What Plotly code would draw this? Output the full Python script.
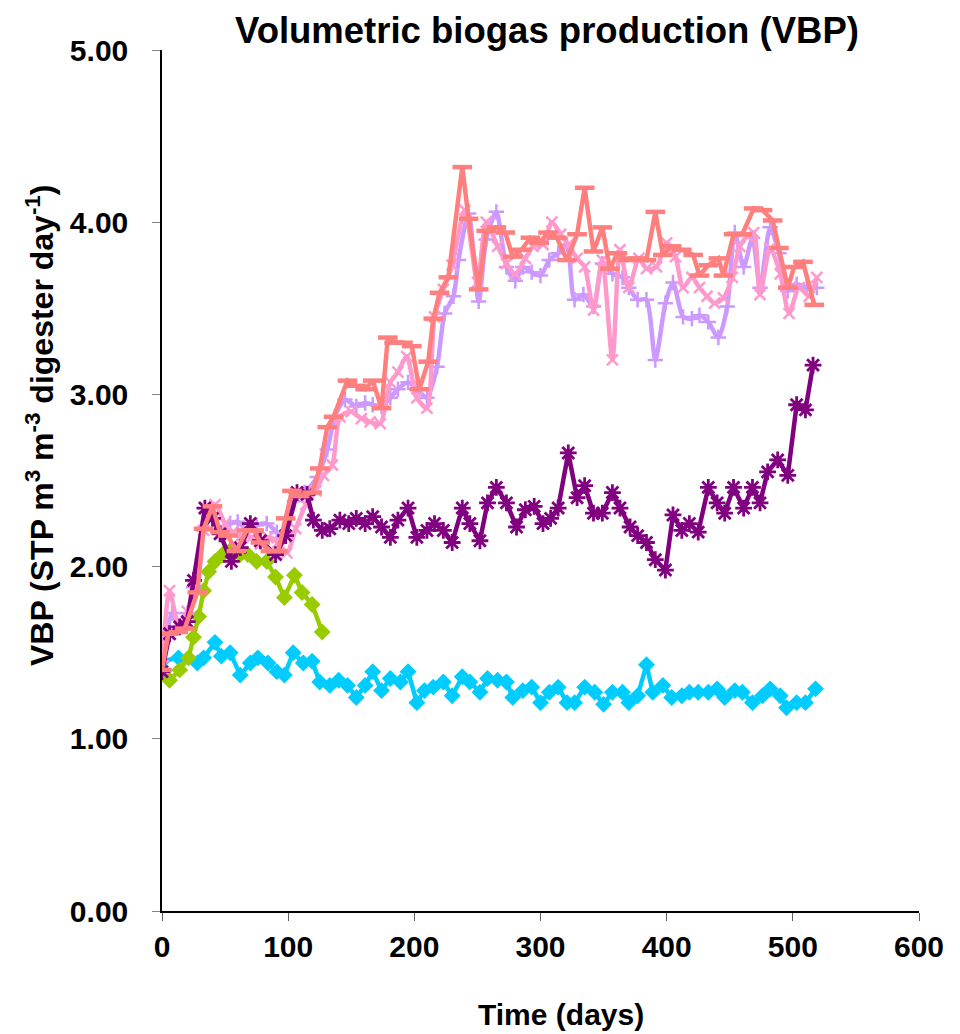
import plotly.graph_objects as go

# ---------------- data ----------------
cyan_days = [0, 13, 28, 33, 42, 47, 54, 62, 70, 76, 84, 91, 97, 104, 112, 119, 125, 133, 140, 147,
             154, 161, 167, 174, 181, 189, 195, 202, 208, 215, 223, 230, 238, 244, 252, 258, 266, 273, 278, 286,
             293, 300, 307, 314, 321, 327, 335, 343, 350, 357, 365, 370, 377, 384, 389, 397, 404, 412, 418, 425,
             433, 440, 446, 454, 460, 468, 476, 482, 490, 495, 503, 510, 518]
cyan_vbp = [1.45, 1.47, 1.44, 1.47, 1.56, 1.48, 1.50, 1.37, 1.44, 1.47, 1.44, 1.39, 1.37, 1.50, 1.44, 1.45, 1.33, 1.31, 1.34, 1.31,
            1.24, 1.31, 1.39, 1.28, 1.35, 1.33, 1.39, 1.21, 1.28, 1.30, 1.33, 1.25, 1.36, 1.33, 1.27, 1.35, 1.34, 1.33, 1.24, 1.28,
            1.30, 1.21, 1.27, 1.30, 1.21, 1.21, 1.30, 1.27, 1.20, 1.27, 1.27, 1.21, 1.25, 1.43, 1.27, 1.31, 1.24, 1.25, 1.27, 1.27,
            1.27, 1.29, 1.24, 1.28, 1.27, 1.21, 1.25, 1.29, 1.25, 1.18, 1.21, 1.21, 1.29]

green_days = [0, 6, 14, 21, 25, 29, 33, 37, 42, 48, 55, 62, 68, 75, 83, 90, 97, 105, 111, 119, 127]
green_vbp = [1.40, 1.34, 1.40, 1.47, 1.59, 1.71, 1.86, 1.97, 2.03, 2.07, 2.10, 2.07, 2.07, 2.03, 2.03, 1.94, 1.82, 1.95, 1.85, 1.78, 1.62]

purple_days = [0, 6, 14, 20, 25, 34, 40, 46, 55, 62, 70, 78, 90, 98, 107, 115, 120, 127, 133, 141,
               148, 154, 161, 167, 174, 181, 187, 195, 202, 210, 216, 223, 230, 238, 244, 252, 258, 265, 273, 281,
               288, 295, 302, 308, 314, 322, 329, 335, 342, 349, 357, 363, 371, 377, 384, 391, 399, 405, 412, 418,
               425, 433, 440, 446, 453, 461, 468, 474, 480, 488, 496, 503, 510, 516]
purple_vbp = [1.39, 1.61, 1.65, 1.68, 1.92, 2.34, 2.28, 2.19, 2.03, 2.11, 2.25, 2.15, 2.07, 2.18, 2.43, 2.42, 2.27, 2.21, 2.22, 2.27,
              2.25, 2.28, 2.25, 2.29, 2.23, 2.17, 2.27, 2.34, 2.17, 2.21, 2.25, 2.21, 2.14, 2.34, 2.25, 2.15, 2.37, 2.46, 2.37, 2.23,
              2.33, 2.35, 2.25, 2.28, 2.34, 2.66, 2.40, 2.47, 2.31, 2.31, 2.43, 2.34, 2.23, 2.18, 2.14, 2.04, 1.98, 2.30, 2.21, 2.25,
              2.20, 2.46, 2.37, 2.31, 2.46, 2.34, 2.46, 2.37, 2.55, 2.62, 2.53, 2.94, 2.91, 3.17]

lavender_days = [0, 8, 13, 20, 25, 33, 40, 46, 54, 60, 68, 75, 83, 91, 96, 105, 113, 123, 131, 137,
                 145, 154, 161, 167, 174, 181, 187, 195, 202, 210, 218, 224, 231, 235, 243, 251, 257, 265, 273, 280,
                 286, 293, 300, 307, 314, 321, 327, 334, 342, 349, 357, 365, 370, 377, 384, 391, 399, 405, 413, 420,
                 426, 433, 441, 448, 454, 461, 468, 474, 482, 489, 496, 503, 511, 519]
lavender_vbp = [1.45, 1.73, 1.65, 1.73, 1.88, 2.21, 2.31, 2.20, 2.25, 2.26, 2.21, 2.24, 2.25, 2.20, 2.17, 2.38, 2.43, 2.52, 2.68, 2.87,
                2.97, 2.93, 2.95, 2.94, 2.93, 2.98, 3.03, 3.07, 3.03, 2.98, 3.16, 3.47, 3.57, 3.78, 4.05, 3.54, 3.90, 4.06, 3.74, 3.66,
                3.74, 3.71, 3.69, 3.78, 3.82, 3.87, 3.55, 3.58, 3.51, 3.76, 3.70, 3.68, 3.62, 3.55, 3.55, 3.20, 3.53, 3.65, 3.45, 3.44,
                3.46, 3.42, 3.33, 3.51, 3.94, 3.74, 3.91, 3.62, 3.97, 3.82, 3.60, 3.64, 3.62, 3.62]

pink_days = [0, 6, 13, 20, 25, 33, 42, 50, 56, 63, 71, 78, 84, 92, 99, 106, 114, 122, 128, 135,
             141, 150, 158, 165, 173, 181, 187, 194, 202, 210, 216, 223, 230, 240, 250, 257, 266, 273, 280, 288,
             294, 302, 309, 316, 322, 329, 335, 342, 349, 357, 363, 370, 378, 384, 392, 400, 407, 413, 420, 426,
             432, 438, 445, 452, 458, 464, 469, 474, 482, 490, 497, 505, 513, 519]
pink_vbp = [1.42, 1.86, 1.67, 1.74, 1.88, 2.21, 2.36, 2.25, 2.20, 2.18, 2.17, 2.13, 2.17, 2.14, 2.08, 2.22, 2.36, 2.44, 2.53, 2.59,
            2.87, 2.90, 2.86, 2.84, 2.83, 3.07, 3.13, 3.22, 2.98, 2.92, 3.45, 3.61, 3.75, 4.07, 3.65, 4.00, 3.86, 3.76, 3.70, 3.79,
            3.86, 3.87, 4.00, 3.93, 3.87, 3.79, 3.74, 3.49, 3.78, 3.20, 3.84, 3.62, 3.79, 3.73, 3.74, 3.88, 3.80, 3.62, 3.68, 3.62,
            3.57, 3.53, 3.56, 3.68, 3.86, 3.92, 3.94, 3.58, 3.85, 3.70, 3.47, 3.62, 3.57, 3.68]

salmon_days = [0, 5, 13, 18, 28, 33, 40, 46, 52, 59, 67, 73, 78, 86, 92, 98, 103, 109, 119, 125,
               131, 136, 147, 154, 161, 167, 174, 179, 184, 191, 198, 204, 211, 215, 220, 227, 238, 243, 251, 257,
               265, 272, 278, 285, 292, 299, 306, 313, 321, 329, 335, 342, 349, 355, 361, 369, 376, 384, 391, 397,
               404, 412, 421, 426, 433, 441, 445, 453, 460, 469, 476, 484, 489, 496, 501, 508, 517]
salmon_vbp = [1.40, 1.61, 1.62, 1.64, 1.85, 2.22, 2.35, 2.20, 2.18, 2.09, 2.21, 2.21, 2.14, 2.09, 2.09, 2.28, 2.44, 2.41, 2.43, 2.57,
              2.81, 2.87, 3.08, 3.05, 3.03, 3.08, 2.92, 3.33, 3.30, 3.30, 3.28, 3.03, 3.19, 3.44, 3.59, 3.68, 4.32, 4.02, 3.61, 3.95,
              3.97, 3.94, 3.80, 3.84, 3.91, 3.88, 3.94, 3.91, 3.78, 3.93, 4.20, 3.83, 3.97, 3.73, 3.82, 3.78, 3.79, 3.78, 4.06, 3.81,
              3.86, 3.84, 3.81, 3.69, 3.75, 3.79, 3.69, 3.93, 3.93, 4.08, 4.07, 4.01, 3.85, 3.62, 3.74, 3.77, 3.52]

x_ticks = [0, 100, 200, 300, 400, 500, 600]
y_ticks = [0, 1, 2, 3, 4, 5]

title_text = "Volumetric biogas production (VBP)"
x_title = "Time (days)"
y_title = "VBP (STP m<sup>3</sup> m<sup>-3</sup> digester day<sup>-1</sup>)"

# ---------------- styles ----------------
CYAN = "#00CCFF"
GREEN = "#99CC00"
PURPLE = "#800080"
LAVENDER = "#CC99FF"
PINK = "#FF99CC"
SALMON = "#FF7F7F"
FONT = "Liberation Sans, Arial, sans-serif"
LW = 4.5

# The page body has an 8px margin, so the figure is drawn 8px in from the window corner.
W, H = 952, 1026
PL, PR, PT, PB = 154, 41, 42, 123   # plot area lands at window x 162..919, y 50..911
PW, PH = W - PL - PR, H - PT - PB

fig = go.Figure()

fig.add_trace(go.Scatter(x=cyan_days, y=cyan_vbp, mode="lines+markers",
                         line=dict(color=CYAN, width=LW),
                         marker=dict(symbol="diamond", size=13, color=CYAN)))
fig.add_trace(go.Scatter(x=green_days, y=green_vbp, mode="lines+markers",
                         line=dict(color=GREEN, width=LW),
                         marker=dict(symbol="diamond", size=13, color=GREEN)))
fig.add_trace(go.Scatter(x=lavender_days, y=lavender_vbp, mode="lines+markers",
                         line=dict(color=LAVENDER, width=LW, shape="spline", smoothing=0.7),
                         marker=dict(symbol="cross-thin", size=11, color=LAVENDER,
                                     line=dict(color=LAVENDER, width=2.5))))
fig.add_trace(go.Scatter(x=pink_days, y=pink_vbp, mode="lines+markers",
                         line=dict(color=PINK, width=LW, shape="spline", smoothing=0.7),
                         marker=dict(symbol="x-thin", size=11, color=PINK,
                                     line=dict(color=PINK, width=2.5))))
fig.add_trace(go.Scatter(x=purple_days, y=purple_vbp, mode="lines+markers",
                         line=dict(color=PURPLE, width=LW),
                         marker=dict(symbol="asterisk", size=14, color=PURPLE,
                                     line=dict(color=PURPLE, width=2.8))))
fig.add_trace(go.Scatter(x=salmon_days, y=salmon_vbp, mode="lines+markers",
                         line=dict(color=SALMON, width=LW),
                         marker=dict(symbol="line-ew", size=14, color=SALMON,
                                     line=dict(color=SALMON, width=4.5))))

fig.update_layout(
    width=W, height=H,
    margin=dict(l=PL, r=PR, t=PT, b=PB),
    paper_bgcolor="white", plot_bgcolor="white",
    showlegend=False,
    font=dict(family=FONT, color="black"),
)

fig.update_xaxes(range=[0, 600], tickvals=x_ticks, ticktext=[str(v) for v in x_ticks],
                 showgrid=False, zeroline=False, showline=True, linecolor="black", linewidth=1.5,
                 ticks="outside", ticklen=8, tickcolor="#606060", tickwidth=1,
                 ticklabelstandoff=0,
                 tickfont=dict(family=FONT, size=30, weight="bold", color="black"))
fig.update_yaxes(range=[0, 5], tickvals=y_ticks, ticktext=[f"{v:.2f}" for v in y_ticks],
                 showgrid=False, zeroline=False, showline=True, linecolor="black", linewidth=1.5,
                 ticks="outside", ticklen=8, tickcolor="#808080", tickwidth=1,
                 ticklabelstandoff=18,
                 tickfont=dict(family=FONT, size=30, weight="bold", color="black"))

def px_x(wx):   # window pixel x -> paper x
    return (wx - 162) / PW

def px_y(wy):   # window pixel y -> paper y
    return (911 - wy) / PH

fig.add_annotation(text=title_text, xref="paper", yref="paper",
                   x=px_x(547), y=px_y(31), xanchor="center", yanchor="middle", showarrow=False,
                   font=dict(family=FONT, size=36.5, weight="bold", color="black"))
fig.add_annotation(text=x_title, xref="paper", yref="paper",
                   x=px_x(561), y=px_y(1015),
                   xanchor="center", yanchor="middle", showarrow=False,
                   font=dict(family=FONT, size=30, weight="bold", color="black"))
fig.add_annotation(text=y_title, xref="paper", yref="paper",
                   x=px_x(40), y=px_y(426), textangle=-90,
                   xanchor="center", yanchor="middle", showarrow=False,
                   font=dict(family=FONT, size=32, weight="bold", color="black"))

fig.write_html("out.html")
